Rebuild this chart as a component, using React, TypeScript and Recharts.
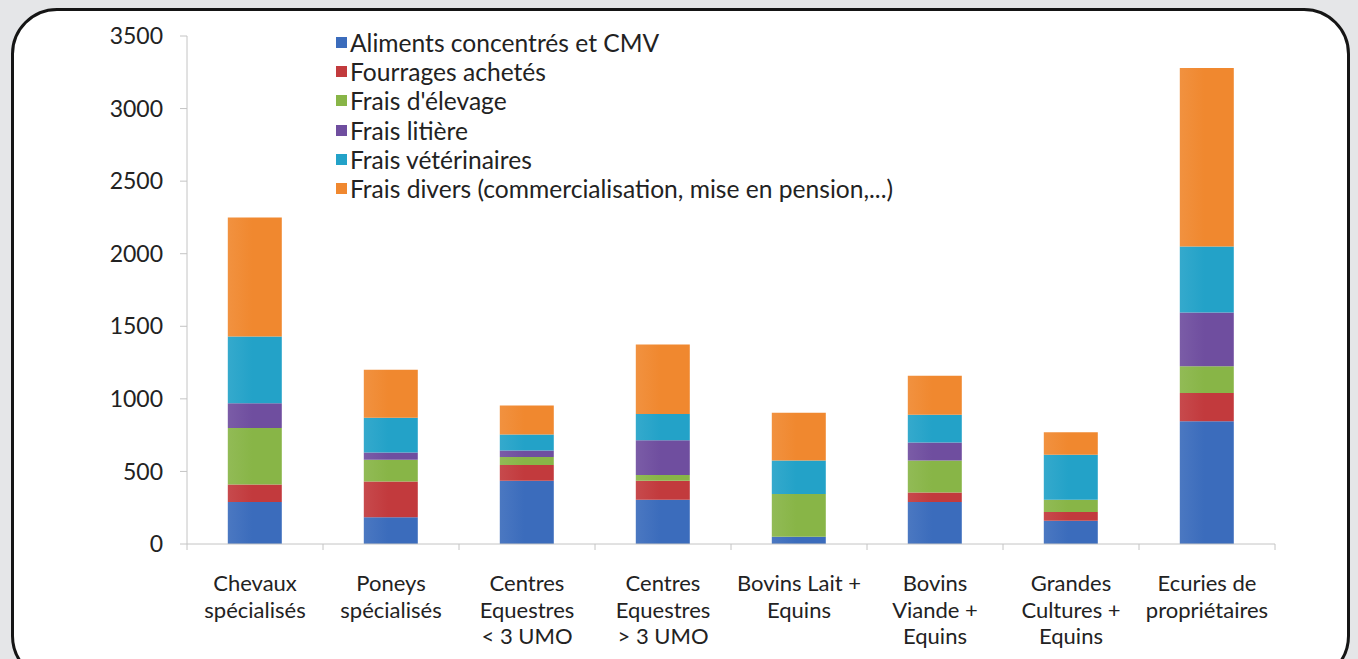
import { BarChart, Bar, XAxis, YAxis } from 'recharts'

const categories = [
  'Chevaux\nspécialisés',
  'Poneys\nspécialisés',
  'Centres\nEquestres\n< 3 UMO',
  'Centres\nEquestres\n> 3 UMO',
  'Bovins Lait +\nEquins',
  'Bovins\nViande +\nEquins',
  'Grandes\nCultures +\nEquins',
  'Ecuries de\npropriétaires'
]

const aliments = [290, 185, 435, 305, 50, 290, 160, 845]
const fourrages = [120, 245, 110, 130, 0, 65, 60, 195]
const elevage = [390, 150, 55, 40, 295, 220, 85, 185]
const litiere = [170, 50, 45, 240, 0, 125, 0, 370]
const veterinaires = [460, 240, 110, 180, 230, 190, 310, 455]
const divers = [820, 330, 200, 480, 330, 270, 155, 1230]

const yTicks = [0, 500, 1000, 1500, 2000, 2500, 3000, 3500]

const series = [
  { key: 'aliments', name: 'Aliments concentrés et CMV', values: aliments, color: '#3b6cbc' },
  { key: 'fourrages', name: 'Fourrages achetés', values: fourrages, color: '#c23a3d' },
  { key: 'elevage', name: "Frais d'élevage", values: elevage, color: '#88b547' },
  { key: 'litiere', name: 'Frais litière', values: litiere, color: '#6f4e9f' },
  { key: 'veterinaires', name: 'Frais vétérinaires', values: veterinaires, color: '#23a2c8' },
  { key: 'divers', name: 'Frais divers (commercialisation, mise en pension,...)', values: divers, color: '#f0882f' }
]

const data = categories.map((cat, i) => {
  const row: Record<string, string | number> = { cat }
  series.forEach(s => { row[s.key] = s.values[i] })
  return row
})

const W = 1358
const H = 659
const LEFT = 187
const RIGHT = 83
const BAND = (W - LEFT - RIGHT) / categories.length
const FONT = 'Lato, "Open Sans", sans-serif'
const TEXT = '#222222'
const AXIS = '#c4c4c4'

function CatTick(props: any) {
  const { x, y, payload, index } = props
  const lines = String(payload.value).split('\n')
  const top = y
  return (
    <g>
      <line x1={x - BAND / 2} x2={x - BAND / 2} y1={top} y2={top + 6} stroke={AXIS} />
      {index === categories.length - 1 && (
        <line x1={x + BAND / 2} x2={x + BAND / 2} y1={top} y2={top + 6} stroke={AXIS} />
      )}
      <text x={x} y={top + 47} textAnchor="middle" fill={TEXT} fontSize={22} fontFamily={FONT}>
        {lines.map((l, i) => (
          <tspan key={i} x={x} dy={i === 0 ? 0 : 26.5}>{l}</tspan>
        ))}
      </text>
    </g>
  )
}

export default function App() {
  return (
    <div style={{ position: 'absolute', left: 0, top: 0, width: W, height: H, background: '#e5e6e8', overflow: 'hidden' }}>
      <div style={{
        position: 'absolute', left: 11, top: 8, width: 1333, height: 668,
        background: '#ffffff', border: '3px solid #151515', borderRadius: 46
      }} />
      <div style={{ position: 'absolute', left: 0, top: 0 }}>
        <BarChart width={W} height={H} data={data} margin={{ top: 36, right: RIGHT, bottom: 0, left: 0 }} barCategoryGap="30%">
          <defs>
            {series.map(s => (
              <linearGradient key={s.key} id={`g-${s.key}`} x1="0" y1="0" x2="1" y2="0">
                <stop offset="0%" stopColor={s.color} stopOpacity={0.92} />
                <stop offset="45%" stopColor={s.color} stopOpacity={1} />
                <stop offset="100%" stopColor={s.color} stopOpacity={1} />
              </linearGradient>
            ))}
          </defs>
          <XAxis
            dataKey="cat"
            height={115}
            axisLine={{ stroke: AXIS }}
            tickLine={false}
            tickSize={0}
            tickMargin={0}
            interval={0}
            tick={<CatTick />}
          />
          <YAxis
            width={LEFT}
            domain={[0, 3500]}
            ticks={yTicks}
            interval={0}
            axisLine={{ stroke: AXIS }}
            tickLine={{ stroke: AXIS }}
            tickSize={7}
            tickMargin={17}
            tick={{ fill: TEXT, fontSize: 23, fontFamily: FONT }}
          />
          {series.map(s => (
            <Bar key={s.key} dataKey={s.key} name={s.name} stackId="a" fill={`url(#g-${s.key})`} isAnimationActive={false} />
          ))}
        </BarChart>
      </div>
      <div style={{ position: 'absolute', left: 336, top: 28, fontFamily: FONT, fontSize: 24.6, color: TEXT }}>
        {series.map(s => (
          <div key={s.key} style={{ display: 'flex', alignItems: 'center', height: 29.2, whiteSpace: 'nowrap' }}>
            <span style={{ display: 'inline-block', width: 11, height: 11, background: s.color, marginRight: 3 }} />
            <span>{s.name}</span>
          </div>
        ))}
      </div>
    </div>
  )
}
